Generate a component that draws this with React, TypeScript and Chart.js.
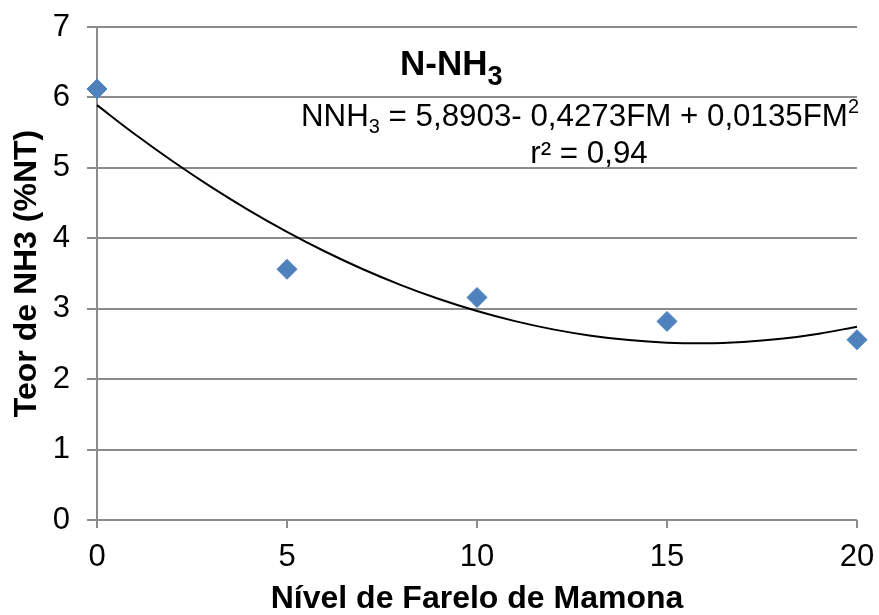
import React, { useEffect, useRef } from "react";
import { Chart, registerables } from "chart.js";

Chart.register(...registerables);

// ---- data ----
const levels = [0, 5, 10, 15, 20];
const nh3Values = [6.12, 3.56, 3.16, 2.82, 2.56];

// polynomial trend line (NNH3 = 5,8903 - 0,4273FM + 0,0135FM²), tabulated
const trendX = [0, 1, 2, 3, 4, 5, 6, 7, 8, 9, 10, 11, 12, 13, 14, 15, 16, 17, 18, 19, 20];
const trendY = [
  5.8903, 5.4765, 5.0897, 4.7299, 4.3971, 4.0913, 3.8125, 3.5607, 3.3359, 3.1381,
  2.9673, 2.8235, 2.7067, 2.6169, 2.5541, 2.5183, 2.5095, 2.5277, 2.5729, 2.6451, 2.7443,
];

const xTickValues = [0, 5, 10, 15, 20];
const yTickValues = [0, 1, 2, 3, 4, 5, 6, 7];

const titleMain = "N-NH";
const titleSub = "3";
const eqParts = ["NNH", "3", " = 5,8903- 0,4273FM + 0,0135FM", "2"];
const r2Text = "r² = 0,94";
const xTitle = "Nível de Farelo de Mamona";
const yTitle = "Teor de NH3 (%NT)";

const FONT = "'Liberation Sans', Arial, Helvetica, sans-serif";
const GRID = "#8c8c8c";
const BLUE = "#4F81BD";

const textPlugin = {
  id: "chartText",
  afterDraw(chart: any) {
    const ctx = chart.ctx as CanvasRenderingContext2D;
    ctx.save();
    ctx.fillStyle = "#000";
    ctx.textBaseline = "alphabetic";
    ctx.textAlign = "left";

    // Title N-NH3
    let x = 400;
    const tb = 75;
    ctx.font = `bold 35px ${FONT}`;
    ctx.fillText(titleMain, x, tb);
    x += ctx.measureText(titleMain).width;
    ctx.font = `bold 27px ${FONT}`;
    ctx.fillText(titleSub, x, tb + 10);

    // Equation line
    let ex = 301;
    const eb = 126;
    ctx.font = `31.3px ${FONT}`;
    ctx.fillText(eqParts[0], ex, eb);
    ex += ctx.measureText(eqParts[0]).width;
    ctx.font = `20px ${FONT}`;
    ctx.fillText(eqParts[1], ex, eb + 7);
    ex += ctx.measureText(eqParts[1]).width;
    ctx.font = `31.3px ${FONT}`;
    ctx.fillText(eqParts[2], ex, eb);
    ex += ctx.measureText(eqParts[2]).width;
    ctx.font = `20px ${FONT}`;
    ctx.fillText(eqParts[3], ex, eb - 13);

    // r2 line
    ctx.font = `31.3px ${FONT}`;
    ctx.textAlign = "center";
    ctx.fillText(r2Text, 589, 163);
    ctx.restore();
  },
};

export default function App() {
  const ref = useRef<HTMLCanvasElement | null>(null);

  useEffect(() => {
    if (!ref.current) return;
    const chart = new Chart(ref.current, {
      type: "scatter",
      data: {
        datasets: [
          {
            label: "N-NH3",
            data: levels.map((v, i) => ({ x: v, y: nh3Values[i] })),
            pointStyle: "rectRot",
            pointRadius: 10,
            pointBackgroundColor: BLUE,
            pointBorderColor: BLUE,
            pointBorderWidth: 1,
            showLine: false,
            clip: false as any,
          },
          {
            label: "trend",
            data: trendX.map((v, i) => ({ x: v, y: trendY[i] })),
            showLine: true,
            borderColor: "#000",
            borderWidth: 2,
            pointRadius: 0,
            cubicInterpolationMode: "monotone",
            clip: false as any,
          },
        ],
      },
      options: {
        animation: false,
        responsive: false,
        devicePixelRatio: 1,
        layout: { padding: { left: 0, top: 27, right: 22, bottom: 0 } },
        plugins: {
          legend: { display: false },
          tooltip: { enabled: false },
        },
        scales: {
          x: {
            type: "linear",
            min: 0,
            max: 20,
            afterBuildTicks: (s: any) => {
              s.ticks = xTickValues.map((v) => ({ value: v }));
            },
            afterFit: (s: any) => {
              s.height = 95;
              s.paddingLeft = 0;
              s.paddingRight = 0;
              s.paddingTop = 0;
              s.paddingBottom = 0;
            },
            ticks: {
              color: "#000",
              font: { family: FONT, size: 31 },
              padding: 11,
              maxRotation: 0,
              autoSkip: false,
            },
            grid: {
              drawOnChartArea: false,
              drawTicks: true,
              tickLength: 8,
              color: GRID,
              lineWidth: 2,
            },
            border: { display: false },
            title: {
              display: true,
              text: xTitle,
              color: "#000",
              font: { family: FONT, size: 32, weight: "bold", lineHeight: 1 },
              padding: { top: 0, bottom: 0 },
            },
          },
          y: {
            type: "linear",
            min: 0,
            max: 7,
            afterBuildTicks: (s: any) => {
              s.ticks = yTickValues.map((v) => ({ value: v }));
            },
            afterFit: (s: any) => {
              s.width = 97;
              s.paddingLeft = 0;
              s.paddingRight = 0;
              s.paddingTop = 0;
              s.paddingBottom = 0;
            },
            ticks: {
              color: "#000",
              font: { family: FONT, size: 31 },
              padding: 17,
              autoSkip: false,
            },
            grid: {
              color: GRID,
              lineWidth: 2,
              tickLength: 10,
            },
            border: { display: true, color: GRID, width: 2 },
            title: {
              display: true,
              text: yTitle,
              color: "#000",
              font: { family: FONT, size: 32, weight: "bold", lineHeight: 1 },
              padding: { top: 11, bottom: 0 },
            },
          },
        },
      } as any,
      plugins: [textPlugin],
    });
    return () => chart.destroy();
  }, []);

  return (
    <div style={{ position: "absolute", left: 0, top: 0, width: 879, height: 615, background: "#fff" }}>
      <canvas ref={ref} width={879} height={615} style={{ display: "block", width: 879, height: 615 }} />
    </div>
  );
}
